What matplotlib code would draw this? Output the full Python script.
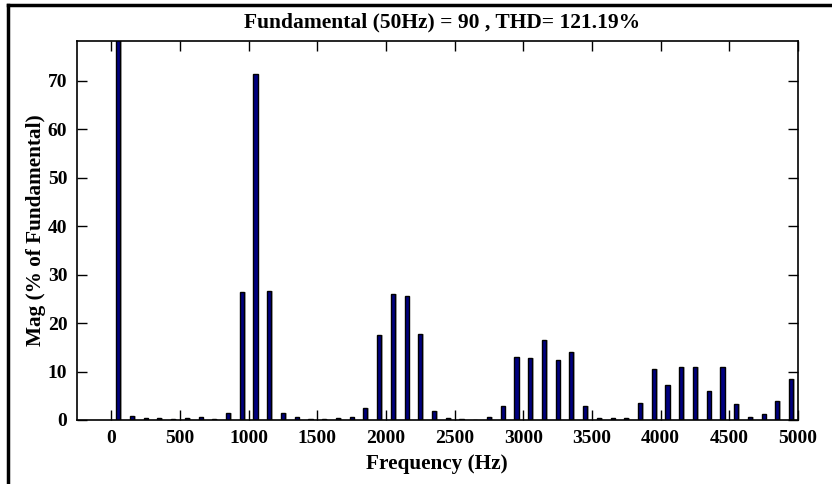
import matplotlib
matplotlib.use("Agg")
import matplotlib.pyplot as plt
from matplotlib.lines import Line2D

freqs = [50, 150, 250, 350, 450, 550, 650, 750, 850, 950,
         1050, 1150, 1250, 1350, 1450, 1550, 1650, 1750, 1850, 1950,
         2050, 2150, 2250, 2350, 2450, 2550, 2650, 2750, 2850, 2950,
         3050, 3150, 3250, 3350, 3450, 3550, 3650, 3750, 3850, 3950,
         4050, 4150, 4250, 4350, 4450, 4550, 4650, 4750, 4850, 4950]
mags = [100, 0.8, 0.35, 0.4, 0.25, 0.4, 0.6, 0.25, 1.5, 26.4,
        71.3, 26.6, 1.5, 0.6, 0.25, 0.3, 0.35, 0.55, 2.5, 17.6,
        26.0, 25.6, 17.8, 1.9, 0.4, 0.15, 0.05, 0.6, 2.9, 13.0,
        12.8, 16.5, 12.4, 14.0, 2.8, 0.5, 0.35, 0.5, 3.5, 10.5,
        7.2, 11.0, 11.0, 6.0, 11.0, 3.4, 0.7, 1.3, 3.9, 8.4]
xticks = [0, 500, 1000, 1500, 2000, 2500, 3000, 3500, 4000, 4500, 5000]
yticks = [0, 10, 20, 30, 40, 50, 60, 70]
title = "Fundamental (50Hz) = 90 , THD= 121.19%"

plt.rcParams['font.family'] = ['Liberation Serif', 'DejaVu Serif']
plt.rcParams['font.weight'] = 'bold'

W, H = 832, 484
fig = plt.figure(figsize=(W / 100, H / 100), dpi=100)
ax = fig.add_axes([77 / W, 1 - 420 / H, (798 - 77) / W, (420 - 41) / H])

# shadow
ax.bar([f + 12 for f in freqs], mags, width=30, color='#b8b8b8', zorder=1)
ax.bar(freqs, mags, width=30, color='#000080', edgecolor='black', linewidth=1.0, zorder=2)

ax.set_xlim(-250, 5000)
ax.set_ylim(0, 78.2)
ax.set_xticks(xticks)
ax.set_yticks(yticks)
ax.tick_params(direction='in', length=7, width=1, top=True, right=True,
               labelsize=14, pad=7)
for lab in ax.get_xticklabels() + ax.get_yticklabels():
    lab.set_fontweight('bold')
for s in ax.spines.values():
    s.set_linewidth(1.2)

fig.text(442 / W, 1 - 22 / H, title, fontsize=15.5, fontweight='bold',
         ha='center', va='center')
ax.set_xlabel("Frequency (Hz)", fontsize=15.3, fontweight='bold')
ax.set_ylabel("Mag (% of Fundamental)", fontsize=15.3, fontweight='bold')
ax.xaxis.set_label_coords((437 - 77) / 721, (420 - 464) / 379)
ax.yaxis.set_label_coords((36 - 77) / 721, 0.5)
ax.xaxis.label.set_va('center')
ax.yaxis.label.set_va('center')

# figure border (top and left)
fig.add_artist(Line2D([8 / W, 1], [1 - 5 / H, 1 - 5 / H], color='black', linewidth=2.5,
                      transform=fig.transFigure))
fig.add_artist(Line2D([8 / W, 8 / W], [0, 1 - 5 / H], color='black', linewidth=2.5,
                      transform=fig.transFigure))

fig.savefig("out.png", dpi=100)
